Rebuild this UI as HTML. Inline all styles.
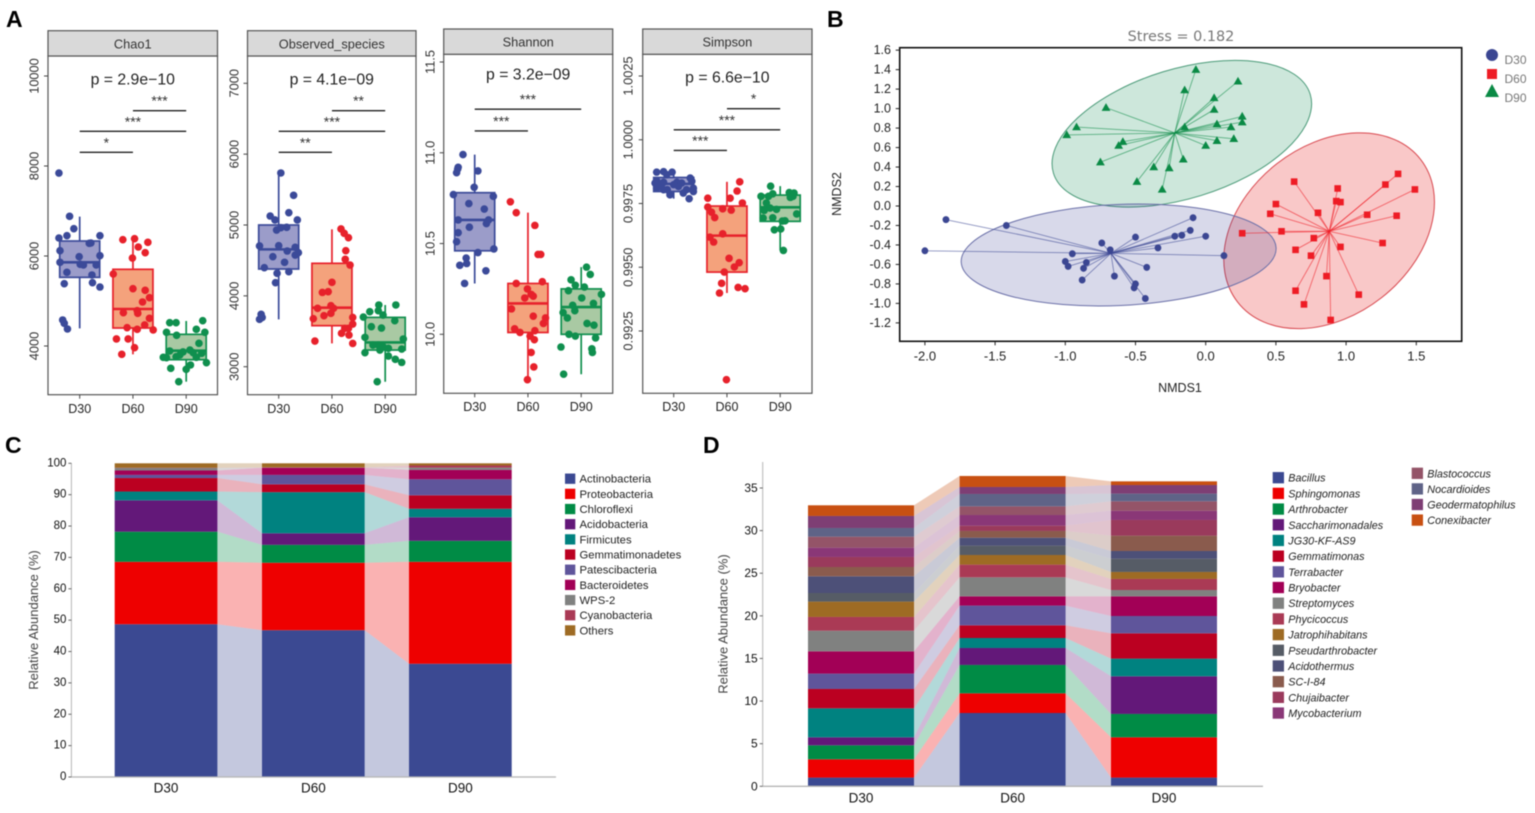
<!DOCTYPE html>
<html lang="en">
<head>
<meta charset="utf-8">
<title>Microbial diversity and community composition</title>
<style>
html,body{margin:0;padding:0;background:#fff;width:1535px;height:813px;overflow:hidden}
svg{display:block;filter:blur(.45px)}
text{font-family:"Liberation Sans",Arial,sans-serif}
</style>
</head>
<body>
<svg id="figure" xmlns="http://www.w3.org/2000/svg" width="1535" height="813" viewBox="0 0 1535 813">
  <rect width="1535" height="813" fill="#fff"/>
  <text x="6" y="27" font-size="23" font-weight="bold" fill="#000">A</text>
  <text x="827" y="27" font-size="23" font-weight="bold" fill="#000">B</text>
  <text x="5" y="453" font-size="23" font-weight="bold" fill="#000">C</text>
  <text x="703" y="453" font-size="23" font-weight="bold" fill="#000">D</text>
  <g id="panelA"></g>
  <g id="panelB"></g>
  <g id="panelC"></g>
  <g id="panelD"></g>
</svg>
<script>
/* ---------- Panel A data ---------- */
const groupLabels = ["D30", "D60", "D90"];
const facetTitles = ["Chao1", "Observed_species", "Shannon", "Simpson"];
const facetPValues = ["p = 2.9e\u221210", "p = 4.1e\u221209", "p = 3.2e\u221209", "p = 6.6e\u221210"];

const chao1Ticks = ["4000", "6000", "8000", "10000"];
const observedTicks = ["3000", "4000", "5000", "6000", "7000"];
const shannonTicks = ["10.0", "10.5", "11.0", "11.5"];
const simpsonTicks = ["0.9925", "0.9950", "0.9975", "1.0000", "1.0025"];

/* box stats: low whisker, q1, median, q3, high whisker */
const chao1Boxes = [[4393, 5526, 5859, 6333, 6874], [3815, 4400, 4822, 5704, 6370], [3207, 3696, 3896, 4259, 4556]];
const observedBoxes = [[3668, 4379, 4656, 5000, 5734], [3329, 3579, 3833, 4459, 4939], [2788, 3235, 3343, 3696, 3871]];
const shannonBoxes = [[10.28, 10.46, 10.63, 10.78, 10.99], [9.75, 10.01, 10.17, 10.28, 10.67], [9.78, 10.00, 10.15, 10.25, 10.37]];
const simpsonBoxes = [[0.99769, 0.99797, 0.99827, 0.99852, 0.99882], [0.99399, 0.99481, 0.99624, 0.9974, 0.99835], [0.99566, 0.9968, 0.99735, 0.99783, 0.99818]];

const chao1D30Values = [7844, 6881, 6607, 6400, 6452, 6452, 6289, 6281, 6118, 5985, 6007, 5859, 5815, 5800, 5800, 5637, 5578, 5385, 5407, 5311, 4578, 4504, 4378];
const chao1D30Jitter = [-.39, -.19, -.11, -.39, -.24, .38, .21, .18, -.37, -.01, .38, -.37, .01, .07, .31, -.24, .23, -.29, .24, .38, -.32, -.29, -.23];
const chao1D60Values = [6363, 6385, 6304, 6200, 6074, 5955, 5600, 5274, 5237, 5074, 4978, 4741, 4785, 4726, 4615, 4407, 4370, 4467, 4356, 4156, 4156, 3963, 3815];
const chao1D60Jitter = [-.19, .03, .28, .10, .23, -.01, -.37, 0, .23, .31, .18, -.18, .08, .09, .31, -.11, .08, .22, .38, -.31, -.09, .03, -.21];
const chao1D90Values = [4519, 4519, 4563, 4370, 4304, 4237, 4304, 4059, 3911, 3741, 3763, 3889, 3867, 3852, 3837, 3630, 3504, 3481, 3578, 3207, 3748, 3748, 3800];
const chao1D90Jitter = [-.31, -.19, .31, .19, -.37, -.18, .35, .24, .07, -.37, -.19, -.31, -.06, .13, .29, .38, -.29, 0, .08, -.14, -.43, .19, -.12];

const observedD30Values = [5734, 5419, 5174, 5127, 5071, 5071, 4967, 4929, 4962, 4704, 4708, 4685, 4633, 4609, 4576, 4553, 4473, 4398, 4341, 4318, 4186, 3739, 3696, 3668];
const observedD30Jitter = [.04, .28, .19, -.16, -.07, .35, .15, -.04, .04, -.36, 0, .31, .16, .37, .31, -.11, .11, -.27, .19, -.03, -.06, -.33, -.31, -.36];
const observedD60Values = [4944, 4882, 4821, 4638, 4515, 4435, 4191, 4059, 4049, 3824, 3861, 3824, 3720, 3753, 3678, 3696, 3602, 3541, 3471, 3447, 3329, 3362, 3541];
const observedD60Jitter = [.17, .23, .31, .26, .25, .34, 0, -.07, -.18, -.27, -.02, .03, -.15, -.02, -.35, .39, .39, .31, .18, .32, .39, -.32, .24];
const observedD90Values = [3871, 3871, 3776, 3791, 3729, 3701, 3649, 3565, 3546, 3414, 3391, 3306, 3282, 3259, 3198, 3235, 3249, 3150, 3104, 3061, 2788, 3306];
const observedD90Jitter = [-.12, .2, -.29, -.13, -.04, -.41, .18, -.26, -.07, -.38, .34, -.13, -.04, .06, -.38, -.10, .31, .06, .19, .31, -.15, -.23];

const shannonD30Values = [10.99, 10.92, 10.91, 10.89, 10.90, 10.81, 10.77, 10.76, 10.72, 10.69, 10.63, 10.63, 10.61, 10.59, 10.56, 10.51, 10.47, 10.45, 10.42, 10.39, 10.38, 10.35, 10.28];
const shannonD30Jitter = [-.22, -.31, -.32, -.34, .06, -.01, -.4, .35, -.11, .18, -.31, .26, .22, -.1, -.31, -.34, .36, .06, -.16, -.15, -.28, .21, -.19];
const shannonD60Values = [10.73, 10.67, 10.60, 10.44, 10.44, 10.29, 10.28, 10.25, 10.20, 10.22, 10.21, 10.14, 10.10, 10.09, 10.06, 10.03, 10.01, 10.02, 9.99, 9.97, 9.90, 9.82, 9.75];
const shannonD60Jitter = [-.33, -.22, .13, .19, .24, .27, -.22, -.01, -.06, .06, .1, -.31, .1, .33, .29, -.25, -.15, .13, .04, .12, .06, .11, -.01];
const shannonD90Values = [10.37, 10.33, 10.30, 10.27, 10.26, 10.24, 10.20, 10.22, 10.17, 10.16, 10.13, 10.12, 10.09, 10.06, 10.05, 10.00, 9.99, 9.98, 9.93, 9.92, 9.90, 9.78];
const shannonD90Jitter = [.1, .17, -.19, -.11, .06, -.24, .01, .38, .23, -.16, -.12, -.34, -.26, .11, .24, -.23, -.11, .27, -.38, .2, .21, -.33];

const simpsonD30Values = [.99873, .99875, .99873, .99863, .99839, .99833, .99833, .99837, .9981, .99784, .9981, .99791, .99769, .99817, .99824, .99824, .99804, .99797, .9983, .9983, .9985, .99804, .99804];
const simpsonD30Jitter = [-.32, -.19, -.03, -.13, -.32, -.19, .06, .34, -.32, -.07, .37, .18, .29, .09, -.26, 0, .24, .37, .15, -.35, .31, -.12, -.19];
const simpsonD60Values = [.99835, .99799, .99771, .99771, .99752, .99736, .99729, .99724, .99716, .99695, .99631, .99618, .99599, .99535, .99518, .99501, .99481, .99437, .99421, .99416, .99399, .99059];
const simpsonD60Jitter = [.24, .19, -.36, .06, .29, -.36, -.08, .08, -.29, -.23, -.08, -.32, -.25, .04, .23, .14, -.05, -.1, .21, .34, -.14, -.01];
const simpsonD90Values = [.99818, .99778, .99788, .99793, .99791, .99774, .99752, .99732, .99723, .99709, .99694, .99681, .99682, .9965, .99647, .99566, .99693, .99778, .99727, .99778];
const simpsonD90Jitter = [-.18, -.36, -.14, .17, .26, .19, -.26, -.19, -.3, .31, -.14, .04, .09, .01, -.11, .06, -.32, -.22, -.07, .24];

/* significance brackets: from group, to group, height in axis units, stars */
const chao1Sig = [[1, 2, 9229, "***"], [0, 2, 8770, "***"], [0, 1, 8304, "*"]];
const observedSig = [[1, 2, 6614, "**"], [0, 2, 6322, "***"], [0, 1, 6026, "**"]];
const shannonSig = [[0, 2, 11.24, "***"], [0, 1, 11.12, "***"]];
const simpsonSig = [[1, 2, 1.00122, "*"], [0, 2, 1.00039, "***"], [0, 1, .99958, "***"]];

/* ---------- Panel B data ---------- */
const nmdsXTicks = ["-2.0", "-1.5", "-1.0", "-0.5", "0.0", "0.5", "1.0", "1.5"];
const nmdsYTicks = ["1.6", "1.4", "1.2", "1.0", "0.8", "0.6", "0.4", "0.2", "0.0", "-0.2", "-0.4", "-0.6", "-0.8", "-1.0", "-1.2"];
const nmdsD30X = [-1.85, -1.42, -2.0, -.95, -.74, -.68, -.50, -.22, -.17, -.11, -.09, 0, -.34, .13, -.42, -1.0, -.98, -.85, -.87, -.88, -.65, -.50, -.51, -.43];
const nmdsD30Y = [-.14, -.20, -.46, -.49, -.38, -.45, -.32, -.31, -.30, -.25, -.12, -.31, -.43, -.51, -.63, -.57, -.62, -.58, -.64, -.76, -.72, -.80, -.84, -.95];
const nmdsD60X = [.63, .94, 1.37, 1.28, 1.49, .93, .96, .50, .80, .46, 1.15, 1.36, .26, .54, .77, 1.26, .64, .96, .75, .86, .64, 1.09, .70, .89];
const nmdsD60Y = [.25, .18, .33, .22, .17, .05, .04, .02, -.07, -.08, -.09, -.10, -.28, -.26, -.33, -.38, -.45, -.42, -.51, -.72, -.87, -.91, -1.01, -1.17];
const nmdsD90X = [-.07, .23, -.15, .06, .06, -.71, .26, .26, -.92, -.15, .08, .18, -.99, .20, .08, -.59, -.62, 0, -.75, -.16, -.37, -.26, -.49, -.31];
const nmdsD90Y = [1.40, 1.28, 1.19, 1.11, .99, 1.01, .92, .86, .81, .81, .84, .81, .73, .69, .67, .66, .62, .62, .45, .48, .40, .39, .25, .17];
const nmdsCentroidsX = [-.675, .88, -.22];
const nmdsCentroidsY = [-.486, -.26, .75];
const ellipseCentersX = [-.62, .879, -.17];
const ellipseCentersY = [-.503, -.254, .742];

/* ---------- Panel C data ---------- */
const stackCategories = ["D30", "D60", "D90"];
const phylumTicks = ["0", "10", "20", "30", "40", "50", "60", "70", "80", "90", "100"];
const phylumNames = ["Actinobacteria", "Proteobacteria", "Chloroflexi", "Acidobacteria", "Firmicutes", "Gemmatimonadetes", "Patescibacteria", "Bacteroidetes", "WPS-2", "Cyanobacteria", "Others"];
const phylumD30 = [48.7, 19.9, 9.6, 10, 2.8, 4.3, 1.0, 1.4, .8, .1, 1.4];
const phylumD60 = [46.8, 21.5, 5.7, 3.7, 13.1, 2.5, 3.0, 2.3, .05, .05, 1.3];
const phylumD90 = [36.1, 32.5, 6.7, 7.5, 2.7, 4.3, 5.1, 3.0, .7, .7, .7];

/* ---------- Panel D data ---------- */
const genusTicks = ["0", "5", "10", "15", "20", "25", "30", "35"];
const genusNames = ["Bacillus", "Sphingomonas", "Arthrobacter", "Saccharimonadales", "JG30-KF-AS9", "Gemmatimonas", "Terrabacter", "Bryobacter", "Streptomyces", "Phycicoccus", "Jatrophihabitans", "Pseudarthrobacter", "Acidothermus", "SC-I-84", "Chujaibacter", "Mycobacterium", "Blastococcus", "Nocardioides", "Geodermatophilus", "Conexibacter"];
const genusD30 = [1.02, 2.15, 1.64, .94, 3.4, 2.27, 1.8, 2.62, 2.42, 1.61, 1.8, 1.01, 1.96, 1.09, 1.18, 1.09, 1.29, 1.02, 1.41, 1.25];
const genusD60 = [8.6, 2.31, 3.33, 1.99, 1.17, 1.49, 2.31, 1.09, 2.23, 1.49, 1.13, 1.1, .93, .79, .62, 1.25, 1.02, 1.45, .82, 1.29];
const genusD90 = [1.02, 4.73, 2.74, 4.42, 2.07, 2.97, 2.03, 2.31, .74, 1.3, .82, 1.56, .9, 1.8, 1.84, 1.09, 1.1, .9, 1.01, .43];

/* ---------- Helpers ---------- */
const NS = "http://www.w3.org/2000/svg";
function make(tag, attrs, parent, content) {
  const el = document.createElementNS(NS, tag);
  for (const k in attrs) el.setAttribute(k, attrs[k]);
  if (content !== undefined) el.textContent = content;
  parent.appendChild(el);
  return el;
}
function linear(v1, p1, v2, p2) {
  const k = (p2 - p1) / (v2 - v1);
  return v => p1 + (v - v1) * k;
}
function slug(s) {
  return String(s).toLowerCase().replace(/[^a-z0-9]+/g, "-");
}
const palette = ["#3b4992", "#ee0000", "#008b45", "#631879", "#008280", "#bb0021", "#5f559b", "#a20056", "#808180", "#aa3a55", "#9e6b24", "#565c66", "#4d5078", "#8a5b4d", "#9a3a5c", "#8a3777", "#945468", "#5f6387", "#7e3e74", "#c85012"];
const phylumColors = palette.slice(0, 10).concat(["#9e6b24"]);

/* ---------- Panel A ---------- */
const groupStroke = ["#3b4a99", "#e7212b", "#0f8f4e"];
const groupBoxFill = ["#9b9cc9", "#f4a27c", "#a9c9a3"];
const facetLayouts = [
  {left: 48, right: 217.5, top: 30.7, strip: 56, bottom: 394.7, cx: 79.7, labelX: 34, pY: 80, tickY: 409, ref: [4000, 346, 10000, 76]},
  {left: 247.5, right: 416, top: 30.7, strip: 56, bottom: 394.7, cx: 278.7, labelX: 234, pY: 80, tickY: 409, ref: [3000, 366.7, 7000, 83.3]},
  {left: 443.7, right: 612.7, top: 29, strip: 54.3, bottom: 393.3, cx: 474.7, labelX: 430, pY: 75, tickY: 407, ref: [10, 334.3, 11.5, 62]},
  {left: 642.7, right: 812, top: 29, strip: 54.3, bottom: 393.3, cx: 673.7, labelX: 628, pY: 78, tickY: 407, ref: [.9925, 331, 1.0025, 76]}
];
const facetTicks = [chao1Ticks, observedTicks, shannonTicks, simpsonTicks];
const facetBoxes = [chao1Boxes, observedBoxes, shannonBoxes, simpsonBoxes];
const facetValues = [
  [chao1D30Values, chao1D60Values, chao1D90Values],
  [observedD30Values, observedD60Values, observedD90Values],
  [shannonD30Values, shannonD60Values, shannonD90Values],
  [simpsonD30Values, simpsonD60Values, simpsonD90Values]
];
const facetJitter = [
  [chao1D30Jitter, chao1D60Jitter, chao1D90Jitter],
  [observedD30Jitter, observedD60Jitter, observedD90Jitter],
  [shannonD30Jitter, shannonD60Jitter, shannonD90Jitter],
  [simpsonD30Jitter, simpsonD60Jitter, simpsonD90Jitter]
];
const facetSig = [chao1Sig, observedSig, shannonSig, simpsonSig];

function drawFacet(f) {
  const L = facetLayouts[f];
  const title = facetTitles[f];
  const root = document.getElementById("panelA");
  const g = make("g", {}, root);
  
  
  const y = linear(L.ref[0], L.ref[1], L.ref[2], L.ref[3]);
  const step = 53.25;
  const x = c => L.cx + c * step;

  const frame = make("rect", {x: L.left, y: L.strip, width: L.right - L.left, height: L.bottom - L.strip, fill: "#fff", stroke: "#555", "stroke-width": 1.2}, g);
  
  

  const strip = make("rect", {x: L.left, y: L.top, width: L.right - L.left, height: L.strip - L.top, fill: "#d9d9d9", stroke: "#555", "stroke-width": 1.2}, g);
  
  

  const stripText = make("text", {x: (L.left + L.right) / 2, y: (L.top + L.strip) / 2 + .5, "text-anchor": "middle", "dominant-baseline": "central", "font-size": 12.8, fill: "#333"}, g, title);
  
  

  facetTicks[f].forEach(t => {
    const py = y(parseFloat(t));
    const tick = make("line", {x1: L.left - 4, x2: L.left, y1: py, y2: py, stroke: "#444", "stroke-width": 1}, g);
    
    
    const lab = make("text", {x: L.labelX, y: py, transform: "rotate(-90 " + L.labelX + " " + py + ")", "text-anchor": "middle", "dominant-baseline": "central", "font-size": 12.8, fill: "#333"}, g, t);
    
    
  });

  groupLabels.forEach((name, c) => {
    const px = x(c);
    const tick = make("line", {x1: px, x2: px, y1: L.bottom, y2: L.bottom + 4, stroke: "#444", "stroke-width": 1}, g);
    
    
    const lab = make("text", {x: px, y: L.tickY, "text-anchor": "middle", "dominant-baseline": "central", "font-size": 12.5, fill: "#222"}, g, name);
    
    

    const b = facetBoxes[f][c];
    const whisker = make("line", {x1: px, x2: px, y1: y(b[0]), y2: y(b[4]), stroke: groupStroke[c], "stroke-width": 1.7}, g);
    
    
    const box = make("rect", {x: px - 20, y: y(b[3]), width: 40, height: y(b[1]) - y(b[3]), fill: groupBoxFill[c], stroke: groupStroke[c], "stroke-width": 1.7}, g);
    
    
    const median = make("line", {x1: px - 20, x2: px + 20, y1: y(b[2]), y2: y(b[2]), stroke: groupStroke[c], "stroke-width": 2.6}, g);
    
    

    facetValues[f][c].forEach((v, i) => {
      const dot = make("circle", {cx: px + facetJitter[f][c][i] * step, cy: y(v), r: 3.8, fill: groupStroke[c]}, g);
      
      
    });
  });

  const pText = make("text", {x: (L.left + L.right) / 2, y: L.pY, "text-anchor": "middle", "dominant-baseline": "central", "font-size": 15.8, fill: "#222"}, g, facetPValues[f]);
  
  

  facetSig[f].forEach(s => {
    const py = y(s[2]);
    const bar = make("line", {x1: x(s[0]), x2: x(s[1]), y1: py, y2: py, stroke: "#222", "stroke-width": 1.4}, g);
    
    
    const star = make("text", {x: (x(s[0]) + x(s[1])) / 2, y: py - 5, "text-anchor": "middle", "font-size": 14, fill: "#333"}, g, s[3]);
    
    
  });
}
facetTitles.forEach((_, f) => drawFacet(f));

/* ---------- Panel B ---------- */
function drawNmds() {
  const g = document.getElementById("panelB");
  const nx = linear(0, 1205.7, 1, 1346.1);
  const ny = linear(0, 206, 1, 108.6);
  const frame = {left: 899.7, right: 1461.7, top: 47.7, bottom: 341.3};
  const ellipseShape = [
    {a: 157.6, b: 50.5, angle: -2.6, fill: "rgba(59,66,150,.2)", stroke: "#6a6fa8"},
    {a: 116, b: 85, angle: -38, fill: "rgba(232,50,50,.27)", stroke: "#d8474e"},
    {a: 134.3, b: 64.7, angle: -17.1, fill: "rgba(20,140,85,.21)", stroke: "#4a9a78"}
  ];
  const xs = [nmdsD30X, nmdsD60X, nmdsD90X];
  const ys = [nmdsD30Y, nmdsD60Y, nmdsD90Y];
  const colors = ["#3b4692", "#ee1c25", "#0a8a45"];

  const border = make("rect", {x: frame.left, y: frame.top, width: frame.right - frame.left, height: frame.bottom - frame.top, fill: "#fff", stroke: "#111", "stroke-width": 1.6}, g);
  
  

  [2, 1, 0].forEach(i => {
    const s = ellipseShape[i];
    const cx = nx(ellipseCentersX[i]);
    const cy = ny(ellipseCentersY[i]);
    const e = make("ellipse", {cx: cx, cy: cy, rx: s.a, ry: s.b, transform: "rotate(" + s.angle + " " + cx + " " + cy + ")", fill: s.fill, stroke: s.stroke, "stroke-width": 1}, g);
    
    
  });

  groupLabels.forEach((name, i) => {
    const ox = nx(nmdsCentroidsX[i]);
    const oy = ny(nmdsCentroidsY[i]);
    xs[i].forEach((vx, j) => {
      const spoke = make("line", {x1: ox, y1: oy, x2: nx(vx), y2: ny(ys[i][j]), stroke: colors[i], "stroke-width": .9, "stroke-opacity": .6}, g);
      
      
    });
  });

  groupLabels.forEach((name, i) => {
    xs[i].forEach((vx, j) => {
      const px = nx(vx);
      const py = ny(ys[i][j]);
      let m;
      if (i === 0) {
        m = make("ellipse", {cx: px, cy: py, rx: 3.4, ry: 3.5, fill: colors[i]}, g);
      } else if (i === 1) {
        m = make("rect", {x: px - 3.3, y: py - 3.3, width: 6.6, height: 6.6, fill: colors[i]}, g);
      } else {
        m = make("polygon", {points: [px, py - 4.5, px - 4.4, py + 3.2, px + 4.4, py + 3.2].join(" "), fill: colors[i]}, g);
      }
      
      
    });
  });

  nmdsXTicks.forEach(t => {
    const px = nx(parseFloat(t));
    const tick = make("line", {x1: px, x2: px, y1: frame.bottom, y2: frame.bottom + 4, stroke: "#222", "stroke-width": 1}, g);
    
    
    const lab = make("text", {x: px, y: 356, "text-anchor": "middle", "dominant-baseline": "central", "font-size": 13, fill: "#222"}, g, t);
    
    
  });
  nmdsYTicks.forEach(t => {
    const py = ny(parseFloat(t));
    const tick = make("line", {x1: frame.left - 4, x2: frame.left, y1: py, y2: py, stroke: "#222", "stroke-width": 1}, g);
    
    
    const lab = make("text", {x: 891, y: py, "text-anchor": "end", "dominant-baseline": "central", "font-size": 12.5, fill: "#222"}, g, t);
    
    
  });

  const stress = make("text", {x: 1181, y: 37, "text-anchor": "middle", "dominant-baseline": "central", "font-size": 14.4, fill: "#777", style: "font-family:'DejaVu Sans',sans-serif"}, g, "Stress = 0.182");
  
  
  const xTitle = make("text", {x: 1180, y: 388, "text-anchor": "middle", "dominant-baseline": "central", "font-size": 12.5, fill: "#222"}, g, "NMDS1");
  
  
  const yTitle = make("text", {x: 837, y: 194, transform: "rotate(-90 837 194)", "text-anchor": "middle", "dominant-baseline": "central", "font-size": 12.5, fill: "#222"}, g, "NMDS2");
  
  

  const legendCircle = make("circle", {cx: 1492, cy: 55, r: 6, fill: colors[0]}, g);
  
  
  const legendSquare = make("rect", {x: 1487, y: 69, width: 10, height: 10, fill: colors[1]}, g);
  
  
  const legendTriangle = make("polygon", {points: "1492,84 1485,97 1499,97", fill: colors[2]}, g);
  
  
  groupLabels.forEach((name, i) => {
    const lab = make("text", {x: 1504.5, y: 60 + i * 19, "dominant-baseline": "central", "font-size": 12, fill: "#777"}, g, name);
    
    
  });
}
drawNmds();

/* ---------- Panels C and D ---------- */
function drawStack(cfg) {
  const g = cfg.root;
  const y = linear(0, cfg.y0, cfg.refValue, cfg.yRef);
  const cumulative = cfg.columns.map(col => {
    let run = 0;
    return [0].concat(col.map(v => (run += v)));
  });
  const nSeries = cfg.names.length;

  for (let s = 0; s < nSeries; s++) {
    for (let c = 0; c < cumulative.length - 1; c++) {
      const xa = cfg.bars[c] + cfg.barWidth;
      const xb = cfg.bars[c + 1];
      const pts = [xa, y(cumulative[c][s]), xb, y(cumulative[c + 1][s]), xb, y(cumulative[c + 1][s + 1]), xa, y(cumulative[c][s + 1])];
      const ribbon = make("polygon", {points: pts.join(" "), fill: cfg.colors[s], "fill-opacity": .3}, g);
      
      
    }
    for (let c = 0; c < cumulative.length; c++) {
      const top = y(cumulative[c][s + 1]);
      const seg = make("rect", {x: cfg.bars[c], y: top, width: cfg.barWidth, height: y(cumulative[c][s]) - top, fill: cfg.colors[s]}, g);
      
      
    }
  }

  const yAxis = make("line", {x1: cfg.axisX, x2: cfg.axisX, y1: cfg.axisTop, y2: cfg.y0, stroke: "#b5b5b5", "stroke-width": 1}, g);
  
  
  const xAxis = make("line", {x1: cfg.axisX, x2: cfg.axisEnd, y1: cfg.y0, y2: cfg.y0, stroke: "#b5b5b5", "stroke-width": 1.3}, g);
  
  

  cfg.ticks.forEach(t => {
    const py = y(parseFloat(t));
    const tick = make("line", {x1: cfg.axisX - 3, x2: cfg.axisX, y1: py, y2: py, stroke: "#666", "stroke-width": 1}, g);
    
    
    const lab = make("text", {x: cfg.axisX - 5, y: py, "text-anchor": "end", "dominant-baseline": "central", "font-size": cfg.yTickSize, fill: "#111"}, g, t);
    
    
  });

  stackCategories.forEach((name, c) => {
    const lab = make("text", {x: cfg.bars[c] + cfg.barWidth / 2, y: cfg.xLabelY, "text-anchor": "middle", "dominant-baseline": "central", "font-size": 13.5, fill: "#111"}, g, name);
    
    
  });

  const title = make("text", {x: cfg.titleX, y: cfg.titleY, transform: "rotate(-90 " + cfg.titleX + " " + cfg.titleY + ")", "text-anchor": "middle", "dominant-baseline": "central", "font-size": 13, fill: "#444"}, g, "Relative Abundance (%)");
  
  

  cfg.names.forEach((name, s) => {
    const col = s < cfg.legendSplit ? 0 : 1;
    const row = col === 0 ? s : s - cfg.legendSplit;
    const L = cfg.legend[col];
    const cy = L.y + row * L.step;
    const sw = make("rect", {x: L.x, y: cy - L.size / 2, width: L.size, height: L.size, fill: cfg.colors[s]}, g);
    
    
    const lab = make("text", {x: L.x + L.textGap, y: cy + 1, "dominant-baseline": "central", "font-size": cfg.legendSize, "font-style": cfg.legendStyle, fill: "#222"}, g, name);
    
    
  });
}

drawStack({
  root: document.getElementById("panelC"),
  names: phylumNames,
  columns: [phylumD30, phylumD60, phylumD90],
  colors: phylumColors,
  ticks: phylumTicks,
  bars: [114.7, 262, 409],
  barWidth: 102.7,
  y0: 777,
  refValue: 100,
  yRef: 463.3,
  axisX: 71.4,
  axisTop: 463.3,
  axisEnd: 556,
  yTickSize: 11.5,
  xLabelY: 788,
  titleX: 33.5,
  titleY: 620,
  legendSplit: 99,
  legend: [{x: 565, y: 478.7, step: 15.17, size: 10.3, textGap: 14.5}],
  legendSize: 11.3,
  legendStyle: "normal"
});

drawStack({
  root: document.getElementById("panelD"),
  names: genusNames,
  columns: [genusD30, genusD60, genusD90],
  colors: palette,
  ticks: genusTicks,
  bars: [808, 959.6, 1111],
  barWidth: 106,
  y0: 786.3,
  refValue: 35,
  yRef: 488,
  axisX: 762.7,
  axisTop: 462,
  axisEnd: 1263,
  yTickSize: 12,
  xLabelY: 798,
  titleX: 723,
  titleY: 624,
  legendSplit: 16,
  legend: [
    {x: 1272.7, y: 477.7, step: 15.69, size: 11.3, textGap: 15.6},
    {x: 1411.7, y: 473.3, step: 15.6, size: 11.3, textGap: 15.6}
  ],
  legendSize: 10.8,
  legendStyle: "italic"
});
</script>
</body>
</html>
